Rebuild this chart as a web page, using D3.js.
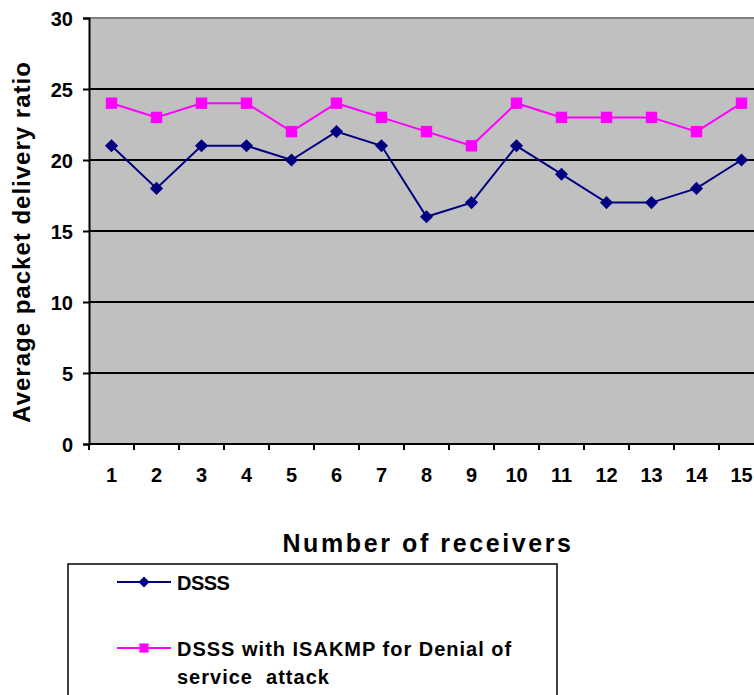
<!DOCTYPE html>
<html>
<head>
<meta charset="utf-8">
<script src="https://cdn.jsdelivr.net/npm/d3@7"></script>
<style>
  body { margin: 0; background: #fff; }
  text { font-family: Arial, "Liberation Sans", sans-serif; font-weight: bold; }
</style>
</head>
<body>
<div id="chart"></div>
<script>
const receivers = ['1','2','3','4','5','6','7','8','9','10','11','12','13','14','15'];
const dsss = [21,18,21,21,20,22,21,16,17,21,19,17,17,18,20];
const isakmp = [24,23,24,24,22,24,23,22,21,24,23,23,23,22,24];
const yTicks = [0,5,10,15,20,25,30];
const seriesNames = ['DSSS', 'DSSS with ISAKMP for Denial of service  attack'];

const W = 754, H = 695;
const margin = {top: 18, left: 89};
const plotW = 675, plotH = 426;

const svg = d3.select('#chart').append('svg')
    .attr('width', W)
    .attr('height', H);

const g = svg.append('g')
    .attr('transform', `translate(${margin.left},${margin.top})`);

// scales
const x = d3.scaleBand().domain(receivers).range([0, plotW]);
const y = d3.scaleLinear().domain([0, 30]).range([plotH, 0]);

// gray background
g.append('rect')
    .attr('width', plotW)
    .attr('height', plotH)
    .attr('fill', '#c0c0c0');

// top border
g.append('line')
    .attr('x1', 0).attr('x2', plotW)
    .attr('y1', 0).attr('y2', 0)
    .attr('stroke', '#808080')
    .attr('stroke-width', 2);

// gridlines
g.selectAll('.grid')
    .data(yTicks.filter(d => d > 0 && d < 30))
    .join('line')
      .attr('class', 'grid')
      .attr('x1', 0).attr('x2', plotW)
      .attr('y1', d => y(d)).attr('y2', d => y(d))
      .attr('stroke', '#000')
      .attr('stroke-width', 2);

// y axis
const yAxis = g.append('g')
    .call(d3.axisLeft(y).tickValues(yTicks).tickSize(6).tickPadding(10));
yAxis.select('.domain').attr('stroke-width', 2);
yAxis.selectAll('.tick line').attr('stroke-width', 2);
yAxis.selectAll('text')
    .attr('font-size', 20)
    .attr('dy', '0.35em')
    .attr('font-family', 'Arial, "Liberation Sans", sans-serif')
    .attr('font-weight', 'bold');

// x axis: ticks between bands
const xAxis = g.append('g')
    .attr('transform', `translate(0,${plotH})`);
xAxis.append('line')
    .attr('x1', 0).attr('x2', plotW)
    .attr('stroke', '#000').attr('stroke-width', 2);
xAxis.selectAll('.xtick')
    .data(receivers)
    .join('line')
      .attr('class', 'xtick')
      .attr('x1', d => x(d)).attr('x2', d => x(d))
      .attr('y1', 0).attr('y2', 6)
      .attr('stroke', '#000').attr('stroke-width', 2);
xAxis.selectAll('.xlab')
    .data(receivers)
    .join('text')
      .attr('class', 'xlab')
      .attr('x', d => x(d) + x.bandwidth() / 2)
      .attr('y', 38)
      .attr('text-anchor', 'middle')
      .attr('font-size', 20)
      .text(d => d);

// lines + markers
const cx = (d, i) => x(receivers[i]) + x.bandwidth() / 2;
const line = d3.line().x(cx).y(d => y(d));

g.append('path')
    .datum(isakmp)
    .attr('d', line)
    .attr('fill', 'none')
    .attr('stroke', '#ff00ff')
    .attr('stroke-width', 2);

g.append('path')
    .datum(dsss)
    .attr('d', line)
    .attr('fill', 'none')
    .attr('stroke', '#000080')
    .attr('stroke-width', 2);

const diamond = d3.symbol().type(d3.symbolDiamond2).size(110);
const square = d3.symbol().type(d3.symbolSquare).size(130);

g.selectAll('.dsssPt')
    .data(dsss)
    .join('path')
      .attr('class', 'dsssPt')
      .attr('d', diamond)
      .attr('transform', (d, i) => `translate(${cx(d, i)},${y(d)})`)
      .attr('fill', '#000080');

g.selectAll('.isaPt')
    .data(isakmp)
    .join('path')
      .attr('class', 'isaPt')
      .attr('d', square)
      .attr('transform', (d, i) => `translate(${cx(d, i)},${y(d)})`)
      .attr('fill', '#ff00ff');

// axis titles
svg.append('text')
    .attr('transform', `translate(30,242) rotate(-90)`)
    .attr('text-anchor', 'middle')
    .attr('font-size', 24)
    .attr('letter-spacing', 1)
    .text('Average packet delivery ratio');

svg.append('text')
    .attr('x', 428)
    .attr('y', 552)
    .attr('text-anchor', 'middle')
    .attr('font-size', 25)
    .attr('letter-spacing', 2.6)
    .text('Number of receivers');

// legend
const legend = svg.append('g').attr('transform', 'translate(68,564)');
legend.append('rect')
    .attr('width', 489)
    .attr('height', 140)
    .attr('fill', '#fff')
    .attr('stroke', '#000')
    .attr('stroke-width', 1.5);

const colors = ['#000080', '#ff00ff'];
const rowY = [18, 84];

seriesNames.forEach((name, i) => {
  const row = legend.append('g').attr('transform', `translate(0,${rowY[i]})`);
  row.append('line')
      .attr('x1', 49).attr('x2', 103)
      .attr('stroke', colors[i]).attr('stroke-width', 2);
  row.append('path')
      .attr('d', i === 0 ? d3.symbol().type(d3.symbolDiamond2).size(80)() : d3.symbol().type(d3.symbolSquare).size(85)())
      .attr('transform', `translate(76,0)`)
      .attr('fill', colors[i]);
  const words = i === 0 ? [name] : ['DSSS with ISAKMP for Denial of', 'service  attack'];
  const t = row.append('text')
      .attr('x', 109)
      .attr('y', 8)
      .attr('font-size', 20)
      .attr('letter-spacing', i === 0 ? -0.5 : 1)
      .style('white-space', 'pre');
  words.forEach((w, k) => {
    t.append('tspan')
        .attr('x', 109)
        .attr('dy', k === 0 ? 0 : 28)
        .text(w);
  });
});
</script>
</body>
</html>
